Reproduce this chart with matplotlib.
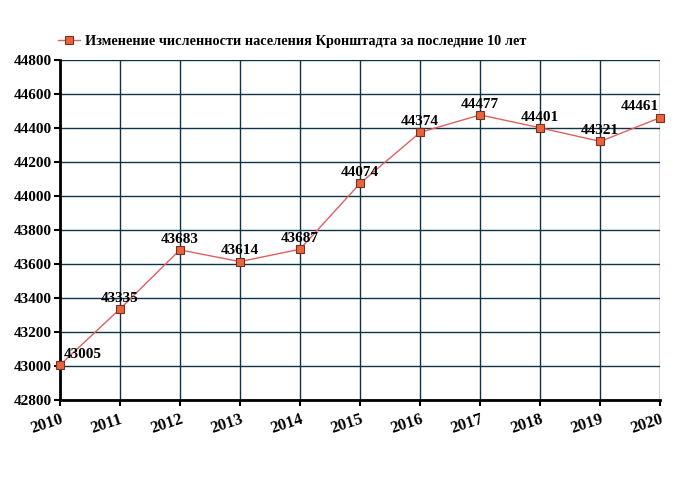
import matplotlib.pyplot as plt

years = [2010, 2011, 2012, 2013, 2014, 2015, 2016, 2017, 2018, 2019, 2020]
population = [43005, 43335, 43683, 43614, 43687, 44074, 44374, 44477, 44401, 44321, 44461]
title = 'Изменение численности населения Кронштадта за последние 10 лет'

plt.rcParams['font.family'] = ['Liberation Serif', 'DejaVu Serif']
plt.rcParams['font.weight'] = 'bold'

fig = plt.figure(figsize=(6.8, 5), dpi=100)
ax = fig.add_axes([0.088, 0.2, 0.883, 0.68])

ax.plot(years, population, color='#e06060', lw=1, marker='s', markersize=6,
        markerfacecolor='#e8643c', markeredgecolor='#7a3020', markeredgewidth=0.8,
        label=title, zorder=3, clip_on=False)

# value labels
for i, (x, y) in enumerate(zip(years, population)):
    if i == 0:
        ax.annotate(str(y), (x, y), xytext=(3, 3), textcoords='offset points',
                    ha='left', va='bottom', fontsize=11, fontweight='bold')
    elif i == len(years) - 1:
        ax.annotate(str(y), (x, y), xytext=(-1, 3), textcoords='offset points',
                    ha='right', va='bottom', fontsize=11, fontweight='bold')
    else:
        ax.annotate(str(y), (x, y), xytext=(0, 3), textcoords='offset points',
                    ha='center', va='bottom', fontsize=11, fontweight='bold')

ax.set_xlim(2010, 2020)
ax.set_ylim(42800, 44800)
ax.set_xticks(years)
ax.set_yticks(range(42800, 44801, 200))
ax.set_xticklabels([str(y) for y in years], rotation=18, ha='right',
                   rotation_mode='anchor', fontsize=12, fontweight='bold')
ax.tick_params(axis='y', labelsize=11, length=4, width=1.5, pad=2)
ax.tick_params(axis='x', length=4, width=1.5, pad=4)
for lab in ax.get_yticklabels():
    lab.set_fontweight('bold')

ax.grid(True, color='#0e3446', lw=1)
ax.set_axisbelow(True)
for s in ['top', 'right']:
    ax.spines[s].set_visible(False)
ax.spines['left'].set_linewidth(2)
ax.spines['bottom'].set_linewidth(2)

fig.legend(loc='upper left', bbox_to_anchor=(0.077, 0.942), frameon=False,
           prop={'size': 10.3, 'weight': 'bold'}, handlelength=1.5,
           handletextpad=0.4, borderaxespad=0)

fig.savefig('out.png', dpi=100)
